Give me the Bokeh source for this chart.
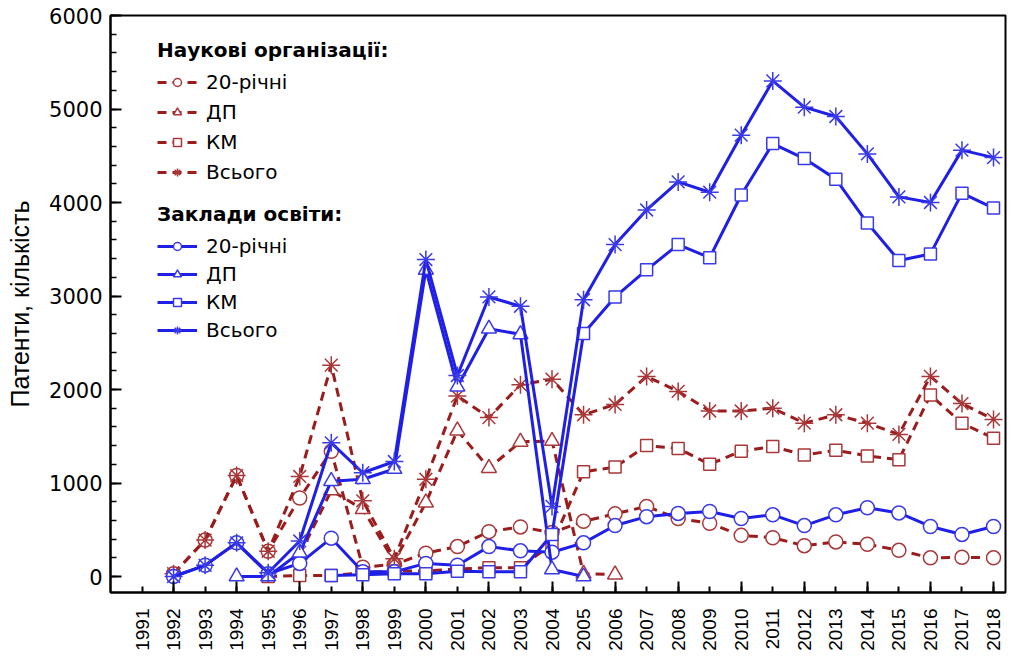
import math
from bokeh.plotting import figure
from bokeh.models import (Range1d, FixedTicker, Legend, LegendItem, ColumnDataSource)
from bokeh.embed import file_html
from bokeh.resources import INLINE

NaN = float("nan")

years = list(range(1992, 2019))
tick_years = list(range(1991, 2019))

# Наукові організації (dashed, dark red)
sci_20 = [30, 390, 1080, 270, 840, 1340, 100, 130, 250, 320, 480, 530, 470, 590,
          670, 750, 620, 570, 440, 415, 330, 370, 345, 280, 200, 205, 200]
sci_dp = [NaN, NaN, NaN, NaN, 230, 920, 720, 160, 790, 1560, 1160, 1440, 1450, 30,
          20, NaN, NaN, NaN, NaN, NaN, NaN, NaN, NaN, NaN, NaN, NaN, NaN]
sci_km = [NaN, NaN, NaN, 0, 10, 10, 40, 60, 60, 80, 95, 95, 350, 1120,
          1170, 1400, 1370, 1200, 1340, 1390, 1300, 1350, 1290, 1250, 1940, 1640, 1480]
sci_total = [30, 390, 1080, 270, 1070, 2260, 810, 190, 1040, 1930, 1700, 2050, 2110, 1730,
             1840, 2140, 1980, 1770, 1770, 1800, 1640, 1730, 1640, 1520, 2140, 1850, 1680]

# Заклади освіти (solid, blue)
edu_20 = [0, 120, 360, 30, 140, 410, 50, 50, 140, 120, 320, 275, 260, 360,
          545, 640, 675, 695, 620, 660, 545, 660, 735, 680, 535, 450, 535]
edu_dp = [NaN, NaN, 0, 0, 255, 1020, 1040, 1150, 3280, 2030, 2650, 2590, 75, 0,
          NaN, NaN, NaN, NaN, NaN, NaN, NaN, NaN, NaN, NaN, NaN, NaN, NaN]
edu_km = [NaN, NaN, NaN, NaN, NaN, 10, 20, 30, 30, 55, 50, 50, 450, 2600,
          2990, 3280, 3550, 3410, 4080, 4630, 4470, 4250, 3780, 3380, 3450, 4100, 3940]
edu_total = [0, 120, 360, 40, 380, 1430, 1110, 1230, 3390, 2150, 2990, 2890, 750, 2960,
             3550, 3920, 4220, 4110, 4720, 5300, 5020, 4920, 4520, 4060, 4000, 4560, 4480]

labels = ["20-річні", "ДП", "КМ", "Всього"]
markers = ["circle", "triangle", "square", "asterisk"]
sizes = [14, 15, 12, 18]

RED = "#9a1c1c"
RED_M = "#a8383a"
BLUE = "#1f1fe6"
BLUE_M = "#3a3ae8"
FONT = "Liberation Sans"
WIDE = "DejaVu Sans"

p = figure(width=1015, height=653, output_backend="svg", toolbar_location=None,
           x_range=Range1d(1990.0, 2018.38), y_range=Range1d(-171, 6000),
           min_border_left=110, min_border_right=10, min_border_top=15, min_border_bottom=60)
p.xgrid.visible = False
p.ygrid.visible = False
p.outline_line_color = "black"
p.outline_line_width = 2
p.background_fill_color = "white"

def draw(vals, color, mcolor, dash, marker, size):
    src = ColumnDataSource(dict(x=years, y=vals))
    ln = p.line("x", "y", source=src, line_color=color, line_width=3, line_dash=dash)
    sc = p.scatter("x", "y", source=src, marker=marker, size=size, line_color=mcolor,
                   line_width=1.5, fill_color="white" if marker != "asterisk" else None)
    return ln, sc

sci_series = [sci_20, sci_dp, sci_km, sci_total]
edu_series = [edu_20, edu_dp, edu_km, edu_total]

sci_items = []
for lab, vals, mk, sz in zip(labels, sci_series, markers, sizes):
    ln, sc = draw(vals, RED, RED_M, "9 6", mk, sz)
    sci_items.append(LegendItem(label=lab, renderers=[ln, sc]))
edu_items = []
for lab, vals, mk, sz in zip(labels, edu_series, markers, sizes):
    ln, sc = draw(vals, BLUE, BLUE_M, "solid", mk, sz)
    edu_items.append(LegendItem(label=lab, renderers=[ln, sc]))

def make_legend(items, title, loc, spacing):
    lg = Legend(items=items, title=title, location=loc, padding=0, margin=0,
                spacing=spacing, glyph_width=40, glyph_height=20, label_height=20,
                label_standoff=9, label_text_font=WIDE, label_text_font_size="20px",
                label_text_color="black",
                title_text_font=WIDE, title_text_font_size="20px",
                title_text_font_style="bold", title_text_color="black", title_standoff=8,
                background_fill_alpha=0, border_line_alpha=0)
    return lg

p.add_layout(make_legend(sci_items, "Наукові організації:", (47, 408), 6))
p.add_layout(make_legend(edu_items, "Заклади освіти:", (47, 250), 4))

# axes
xa = p.xaxis[0]
xa.ticker = FixedTicker(ticks=tick_years, minor_ticks=[y for y in tick_years if y % 2 == 0])
xa.major_tick_in = 6
xa.major_tick_out = 0
xa.minor_tick_in = 11
xa.minor_tick_out = 0
xa.major_label_orientation = math.pi / 2
xa.major_label_text_font = FONT
xa.major_label_text_font_size = "19px"
xa.major_label_text_color = "black"
xa.major_label_standoff = 16
xa.axis_line_width = 2
xa.major_tick_line_width = 2
xa.minor_tick_line_width = 2

ya = p.yaxis[0]
ya.ticker = FixedTicker(ticks=list(range(0, 6001, 1000)), minor_ticks=list(range(0, 6001, 200)))
ya.major_tick_in = 11
ya.major_tick_out = 0
ya.minor_tick_in = 6
ya.minor_tick_out = 0
ya.major_label_text_font = WIDE
ya.major_label_text_font_size = "21px"
ya.major_label_text_color = "black"
ya.major_label_standoff = 8
ya.axis_line_width = 2
ya.major_tick_line_width = 2
ya.minor_tick_line_width = 1.5
ya.axis_label = "Патенти, кількість"
ya.axis_label_text_font = FONT
ya.axis_label_text_font_size = "25px"
ya.axis_label_text_font_style = "normal"
ya.axis_label_text_color = "black"
ya.axis_label_standoff = 12

open("out.html", "w").write(file_html(p, INLINE))
